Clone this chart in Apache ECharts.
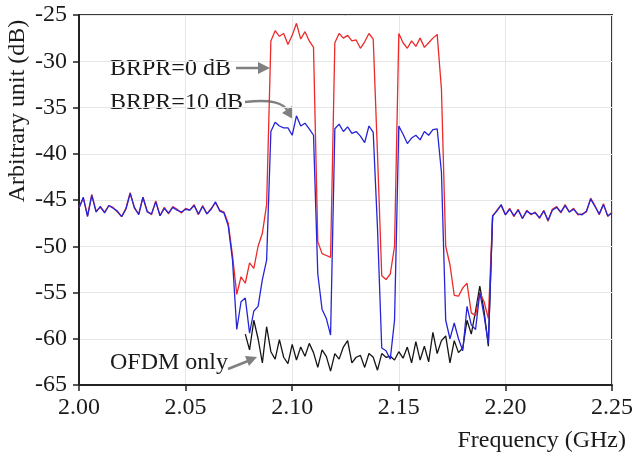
<!DOCTYPE html>
<html>
<head>
<meta charset="utf-8">
<script src="https://cdn.jsdelivr.net/npm/echarts/dist/echarts.min.js"></script>
<style>
  html, body { margin: 0; padding: 0; background: #fff; }
  #spectrum_con { width: 636px; height: 455px; }
</style>
</head>
<body>
<div id="spectrum_con"></div>
<script>
  // frequency grid, GHz (2.000 .. 2.250, step 2 MHz)
  var fStart = 2.0;
  var fStep = 0.002;
  var xTicks = ['2.00', '2.05', '2.10', '2.15', '2.20', '2.25'];
  var yTicks = [-65, -60, -55, -50, -45, -40, -35, -30, -25];

  // BRPR = 0 dB (red)
  var brpr0 = [
    -45.8, -44.8, -46.7, -44.4, -46.2, -45.8, -46.3, -45.6, -45.8, -46.3,
    -46.8, -45.9, -44.2, -45.9, -46.5, -44.7, -46.2, -46.6, -45.1, -46.7,
    -45.8, -46.5, -45.7, -46.0, -46.4, -45.9, -46.1, -45.5, -46.6, -45.6,
    -46.5, -45.9, -45.3, -46.1, -46.3, -47.5, -51.0, -55.2, -53.3, -54.0,
    -51.8, -52.4, -50.0, -48.6, -45.5, -27.8, -26.7, -27.3, -27.0, -28.2,
    -27.2, -25.9, -27.6, -26.8, -27.8, -28.5, -49.5, -50.8, -51.0, -51.2,
    -28.0, -27.0, -27.5, -27.2, -27.8, -27.7, -28.6, -27.9, -27.0, -27.6,
    -40.0, -53.2, -53.6, -53.0, -50.0, -27.0, -28.0, -28.6, -27.8, -28.4,
    -27.5, -28.5, -28.0, -27.5, -27.1, -33.0, -50.0, -52.0, -55.3, -55.4,
    -54.5, -54.0, -57.2, -57.5, -55.0, -56.0, -57.8, -46.8, -46.1, -45.6,
    -46.6, -45.9, -46.8, -46.0, -47.0, -46.1, -46.6, -46.3, -47.0, -46.1,
    -47.3, -46.0, -45.7, -46.4, -45.5, -46.3, -45.9, -46.6, -46.5, -46.3,
    -44.8, -45.6, -46.6, -45.4, -46.8, -46.3
  ];

  // BRPR = 10 dB (blue)
  var brpr10 = [
    -45.9, -44.7, -46.8, -44.5, -46.3, -45.7, -46.4, -45.6, -45.9, -46.2,
    -46.8, -46.0, -44.3, -45.8, -46.6, -44.7, -46.3, -46.5, -45.2, -46.7,
    -45.9, -46.4, -45.8, -46.1, -46.3, -46.0, -46.1, -45.6, -46.5, -45.7,
    -46.5, -46.0, -45.2, -46.2, -46.4, -47.8, -51.5, -59.0, -56.0, -55.6,
    -59.4, -57.0, -56.5, -53.6, -51.5, -37.6, -36.6, -37.0, -37.2, -37.2,
    -38.0, -35.9, -37.0, -36.7, -37.3, -38.0, -53.0, -56.8, -57.8, -59.6,
    -37.3, -36.8, -37.6, -37.1, -37.8, -37.6, -38.1, -38.8, -37.0, -37.7,
    -48.0, -61.0, -61.3, -62.2, -58.0, -37.0, -37.9, -38.9, -38.3, -38.0,
    -38.5, -37.6, -38.0, -37.4, -37.3, -42.0, -58.0, -60.0, -58.3, -60.0,
    -61.3, -56.5, -58.5, -59.0, -55.0, -57.5, -60.5, -46.7, -46.2, -45.5,
    -46.6, -46.0, -46.7, -46.1, -47.0, -46.2, -46.5, -46.4, -46.9, -46.2,
    -47.2, -46.1, -45.8, -46.3, -45.6, -46.3, -46.0, -46.5, -46.6, -46.2,
    -44.9, -45.7, -46.5, -45.5, -46.7, -46.4
  ];

  // OFDM only (black), starts at grid index 39
  var ofdmStart = 39;
  var ofdmOnly = [
    -59.5, -61.2, -58.0, -60.0, -62.6, -58.7, -61.4, -62.2, -60.1, -62.0,
    -62.7, -60.6, -62.3, -60.9, -61.9, -60.5, -61.5, -63.1, -61.2, -61.9,
    -63.5, -61.6, -62.2, -60.9, -60.2, -62.6, -62.0, -61.8, -63.1, -61.6,
    -62.0, -63.4, -61.6, -62.0, -61.9, -62.3, -61.4, -62.1, -60.9, -62.6,
    -60.3, -62.3, -60.8, -62.5, -59.3, -61.6, -60.2, -59.7, -62.6, -60.2,
    -61.5, -61.0, -58.0, -59.5, -57.0, -54.3, -57.0, -60.8, -46.8
  ];

  var freq = [];
  for (var i = 0; i < brpr0.length; i++) {
    freq.push(+(fStart + i * fStep).toFixed(3));
  }
  var toPairs = function (vals, offset) {
    return vals.map(function (v, k) { return [freq[k + offset], v]; });
  };

  var serif = '"Liberation Serif", "Times New Roman", serif';
  var txt = '#1a1a1a';
  var arrowGrey = '#808080';

  var spectrum = echarts.init(document.getElementById('spectrum_con'));
  var option = {
    animation: false,
    grid: {
      left: 79, right: 19, top: 15, bottom: 70,
      show: true, borderColor: '#3a3a3a', borderWidth: 2
    },
    xAxis: {
      type: 'value',
      min: 2.0, max: 2.25, interval: 0.05,
      axisLine: { onZero: false, lineStyle: { color: '#222', width: 2 } },
      axisTick: { show: true, inside: false, length: 6, lineStyle: { color: '#222', width: 1.5 } },
      axisLabel: {
        color: txt, fontFamily: serif, fontSize: 24, margin: 11,
        formatter: function (v) {
          var idx = Math.round((v - fStart) / 0.05);
          return xTicks[idx] !== undefined ? xTicks[idx] : v.toFixed(2);
        }
      },
      splitLine: { show: true, lineStyle: { color: '#e6e6e6', width: 1 } }
    },
    yAxis: {
      type: 'value',
      min: yTicks[0], max: yTicks[yTicks.length - 1], interval: 5,
      axisLine: { show: true, onZero: false, lineStyle: { color: '#222', width: 2 } },
      axisTick: { show: true, inside: false, length: 6, lineStyle: { color: '#222', width: 1.5 } },
      axisLabel: { color: txt, fontFamily: serif, fontSize: 24, margin: 12 },
      splitLine: { show: true, lineStyle: { color: '#e6e6e6', width: 1 } }
    },
    graphic: [
      {
        type: 'text', x: 18, y: 111, rotation: Math.PI / 2,
        style: { text: 'Arbitrary unit (dB)', font: '24px ' + serif, fill: txt, align: 'center', verticalAlign: 'middle' }
      },
      {
        type: 'text', x: 626, y: 441,
        style: { text: 'Frequency (GHz)', font: '24px ' + serif, fill: txt, align: 'right', verticalAlign: 'middle' }
      },
      {
        type: 'text', x: 110, y: 69,
        style: { text: 'BRPR=0 dB', font: '24px ' + serif, fill: txt, align: 'left', verticalAlign: 'middle' }
      },
      {
        type: 'text', x: 110, y: 103,
        style: { text: 'BRPR=10 dB', font: '24px ' + serif, fill: txt, align: 'left', verticalAlign: 'middle' }
      },
      {
        type: 'text', x: 110, y: 363,
        style: { text: 'OFDM only', font: '24px ' + serif, fill: txt, align: 'left', verticalAlign: 'middle' }
      },
      // arrows
      {
        type: 'line', shape: { x1: 236, y1: 68, x2: 261, y2: 68 },
        style: { stroke: arrowGrey, lineWidth: 2.5 }
      },
      {
        type: 'polygon', shape: { points: [[270, 68], [258, 62], [258, 74]] },
        style: { fill: arrowGrey }
      },
      {
        type: 'bezierCurve',
        shape: { x1: 245, y1: 102, cpx1: 272, cpy1: 99, cpx2: 283, cpy2: 103, x2: 288, y2: 111 },
        style: { stroke: arrowGrey, lineWidth: 2.5, fill: null }
      },
      {
        type: 'polygon', shape: { points: [[293, 119], [282, 113], [292, 106]] },
        style: { fill: arrowGrey }
      },
      {
        type: 'line', shape: { x1: 228, y1: 369, x2: 248, y2: 361 },
        style: { stroke: arrowGrey, lineWidth: 2.5 }
      },
      {
        type: 'polygon', shape: { points: [[257, 357], [249, 366], [245, 356]] },
        style: { fill: arrowGrey }
      }
    ],
    series: [
      {
        name: 'OFDM only', type: 'line', showSymbol: false,
        data: toPairs(ofdmOnly, ofdmStart),
        lineStyle: { color: '#151515', width: 1.3 }, itemStyle: { color: '#151515' }
      },
      {
        name: 'BRPR=0 dB', type: 'line', showSymbol: false,
        data: toPairs(brpr0, 0),
        lineStyle: { color: '#ec2a2a', width: 1.3 }, itemStyle: { color: '#ec2a2a' }
      },
      {
        name: 'BRPR=10 dB', type: 'line', showSymbol: false,
        data: toPairs(brpr10, 0),
        lineStyle: { color: '#2525d8', width: 1.3 }, itemStyle: { color: '#2525d8' }
      }
    ]
  };
  spectrum.setOption(option);
  window.addEventListener('resize', function () {
    spectrum.resize();
  });
</script>
</body>
</html>
